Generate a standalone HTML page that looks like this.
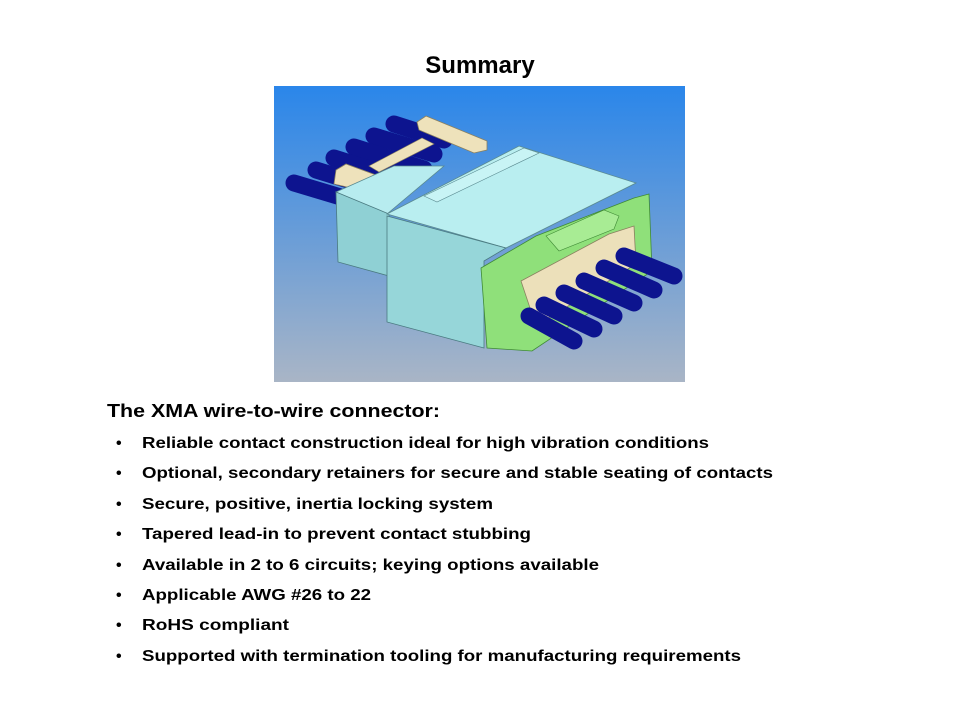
<!DOCTYPE html>
<html><head><meta charset="utf-8"><style>
html,body{margin:0;padding:0;background:#fff;}
svg{display:block;font-family:"Liberation Sans",Arial,sans-serif;font-weight:bold;}
</style></head><body>
<svg width="960" height="720" viewBox="0 0 960 720" xmlns="http://www.w3.org/2000/svg">
<defs>
<linearGradient id="bg" x1="0" y1="0" x2="0" y2="1">
<stop offset="0" stop-color="#2a86ea"/><stop offset="0.55" stop-color="#6f9fd6"/><stop offset="1" stop-color="#a9b5c6"/>
</linearGradient>
</defs>
<text x="480" y="73" font-size="24" text-anchor="middle" fill="#000">Summary</text>
<g transform="translate(274,86)">
<rect x="0" y="0" width="411" height="296" fill="url(#bg)"/>
<!-- left wires -->
<g stroke="#0d148f" stroke-width="17" stroke-linecap="round">
<line x1="120" y1="38" x2="170" y2="54"/>
<line x1="100" y1="50" x2="160" y2="68"/>
<line x1="80" y1="61" x2="150" y2="83"/>
<line x1="60" y1="72" x2="130" y2="94"/>
<line x1="42" y1="84" x2="110" y2="105"/>
<line x1="20" y1="97" x2="90" y2="118"/>
</g>
<!-- clips -->
<polygon points="95,80 148,52 160,58 105,86" fill="#eee2bb" stroke="#8a8060" stroke-width="0.6"/>
<polygon points="143,36 152,30 213,55 213,64 200,67 145,44" fill="#eee2bb" stroke="#8a8060" stroke-width="0.8"/>
<polygon points="62,84 72,78 132,100 132,108 120,112 60,98" fill="#eee2bb" stroke="#8a8060" stroke-width="0.8"/>
<!-- rear housing -->
<polygon points="62,106 120,80 170,80 113,128" fill="#b7ecef" stroke="#5a8a90" stroke-width="0.8"/>
<polygon points="62,106 115,128 115,190 64,176" fill="#8fd0d4" stroke="#4a7a80" stroke-width="0.8"/>
<!-- main body -->
<polygon points="113,128 245,60 362,97 232,162" fill="#b9eef0" stroke="#5a8a90" stroke-width="0.8"/>
<polygon points="150,110 250,62 265,67 163,116" fill="#c8f4f5" stroke="#5a8a90" stroke-width="0.6"/>
<polygon points="113,130 232,162 210,175 210,262 113,236" fill="#96d6d9" stroke="#4a7a80" stroke-width="0.8"/>
<!-- green frame -->
<polygon points="207,182 262,150 360,112 375,108 378,185 258,265 213,262" fill="#8fe07a" stroke="#3f8a35" stroke-width="0.8"/>
<polygon points="247,195 335,148 360,140 362,178 262,240" fill="#ece0ba" stroke="#8a8060" stroke-width="0.8"/>
<polygon points="272,150 330,124 345,130 340,143 285,165" fill="#a8ec94" stroke="#3f8a35" stroke-width="0.6"/>
<!-- right wires -->
<g stroke="#0d148f" stroke-width="17" stroke-linecap="round">
<line x1="350" y1="170" x2="400" y2="190"/>
<line x1="330" y1="182" x2="380" y2="204"/>
<line x1="310" y1="195" x2="360" y2="217"/>
<line x1="290" y1="207" x2="340" y2="230"/>
<line x1="270" y1="219" x2="320" y2="243"/>
<line x1="255" y1="230" x2="300" y2="255"/>
</g>
</g>
<text x="107" y="417" font-size="18" textLength="333" lengthAdjust="spacingAndGlyphs">The XMA wire-to-wire  connector:</text>
<g font-size="16">
<text x="116" y="448">•</text><text x="142" y="448" textLength="567" lengthAdjust="spacingAndGlyphs">Reliable contact construction ideal for high vibration conditions</text>
<text x="116" y="478">•</text><text x="142" y="478" textLength="631" lengthAdjust="spacingAndGlyphs">Optional, secondary retainers for secure and stable seating of contacts</text>
<text x="116" y="509">•</text><text x="142" y="509" textLength="351" lengthAdjust="spacingAndGlyphs">Secure, positive, inertia locking system</text>
<text x="116" y="539">•</text><text x="142" y="539" textLength="389" lengthAdjust="spacingAndGlyphs">Tapered lead-in to prevent contact stubbing</text>
<text x="116" y="570">•</text><text x="142" y="570" textLength="457" lengthAdjust="spacingAndGlyphs">Available in 2 to 6 circuits; keying options available</text>
<text x="116" y="600">•</text><text x="142" y="600" textLength="229" lengthAdjust="spacingAndGlyphs">Applicable AWG #26 to 22</text>
<text x="116" y="630">•</text><text x="142" y="630" textLength="147" lengthAdjust="spacingAndGlyphs">RoHS compliant</text>
<text x="116" y="661">•</text><text x="142" y="661" textLength="599" lengthAdjust="spacingAndGlyphs">Supported with termination tooling for manufacturing requirements</text>
</g>
</svg>
</body></html>
